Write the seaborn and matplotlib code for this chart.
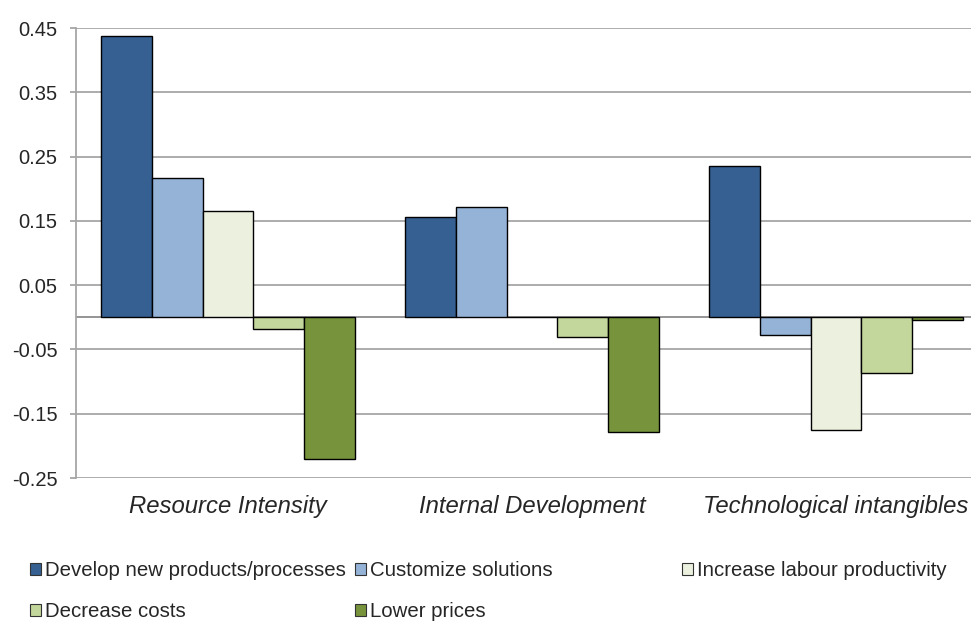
import matplotlib
matplotlib.use("Agg")
import matplotlib.pyplot as plt
from matplotlib.patches import Patch
import seaborn as sns
import pandas as pd

# --- data ---
categories = ["Resource Intensity", "Internal Development", "Technological intangibles"]
series = ["Develop new products/processes", "Customize solutions",
          "Increase labour productivity", "Decrease costs", "Lower prices"]
develop = [0.437, 0.156, 0.236]
customize = [0.217, 0.171, -0.028]
labour = [0.166, 0.001, -0.176]
costs = [-0.018, -0.030, -0.086]
prices = [-0.220, -0.178, -0.004]
yticks = [-0.25, -0.15, -0.05, 0.05, 0.15, 0.25, 0.35, 0.45]

colors = ["#366092", "#95B3D7", "#EBF1DE", "#C3D69B", "#77933C"]

rows = []
for name, vals in zip(series, [develop, customize, labour, costs, prices]):
    for cat, v in zip(categories, vals):
        rows.append({"category": cat, "series": name, "value": v})
df = pd.DataFrame(rows)

sns.set_style("white")
plt.rcParams["font.family"] = ["Liberation Sans", "DejaVu Sans"]

fig = plt.figure(figsize=(9.71, 6.24), dpi=100)
ax = fig.add_axes([76 / 971, 146 / 624, 912 / 971, 450 / 624])

sns.barplot(data=df, x="category", y="value", hue="series", order=categories,
            hue_order=series, palette=colors, saturation=1, width=0.836, gap=0,
            edgecolor="black", linewidth=1.0, legend=False, ax=ax, zorder=3)

ax.set_xlim(-0.5, 2.5)
ax.set_ylim(-0.25, 0.45)
ax.set_yticks(yticks)
ax.set_yticklabels([f"{t:.2f}" for t in yticks])
ax.yaxis.grid(True, color="#A6A6A6", linewidth=1.3)
ax.set_axisbelow(True)
ax.axhline(0, color="#8C8C8C", linewidth=1.3, zorder=2)

for side in ["top", "right", "bottom"]:
    ax.spines[side].set_visible(False)
ax.spines["left"].set_color("#A6A6A6")
ax.spines["left"].set_linewidth(1.3)

ax.tick_params(axis="y", length=4.3, width=1.3, color="#A6A6A6",
               labelsize=14.5, pad=9, left=True)
ax.tick_params(axis="x", length=0, labelsize=17.2, pad=12)
for lab in ax.get_xticklabels():
    lab.set_fontstyle("italic")
ax.set_xlabel("")
ax.set_ylabel("")

# --- legend: Excel-like fixed columns, rows filled left to right ---
handles = [Patch(facecolor=c, edgecolor="#333333", linewidth=0.8) for c in colors]
cols = [[0, 3], [1, 4], [2]]
xpos = [30, 355, 682]
for idx, x in zip(cols, xpos):
    fig.legend([handles[i] for i in idx], [series[i] for i in idx],
               loc="upper left", bbox_to_anchor=(x / 971, 1 - 561 / 624),
               frameon=False, fontsize=14.7, handlelength=0.55, handleheight=0.55,
               handletextpad=0.2, borderpad=0, borderaxespad=0,
               labelspacing=1.08)

fig.savefig("out.png", dpi=100)
